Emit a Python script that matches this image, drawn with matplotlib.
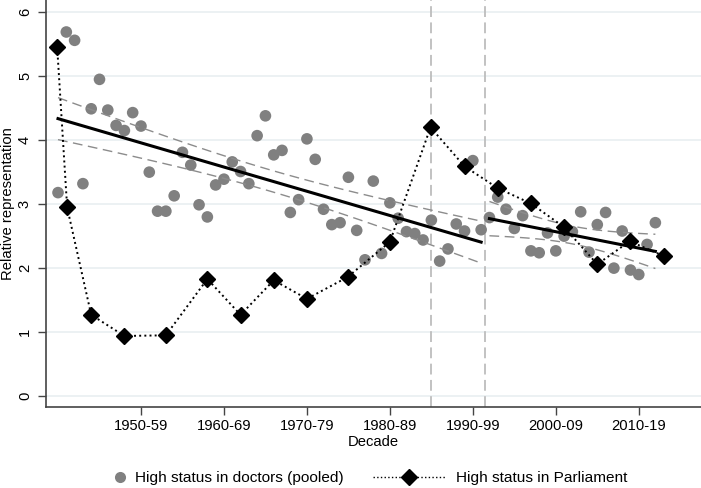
import numpy as np
import matplotlib
matplotlib.use('Agg')
import matplotlib.pyplot as plt
from matplotlib.lines import Line2D
from matplotlib.transforms import blended_transform_factory, offset_copy

plt.rcParams['font.family'] = ['Liberation Sans', 'DejaVu Sans']

# doctors, one value per year 1945-2017
doc_years = list(range(1945, 2018))
doc_values = [3.18, 5.69, 5.56, 3.32, 4.49, 4.95, 4.47, 4.23, 4.15, 4.43,
              4.22, 3.50, 2.89, 2.89, 3.13, 3.81, 3.61, 2.99, 2.80, 3.30,
              3.39, 3.66, 3.51, 3.32, 4.07, 4.38, 3.77, 3.84, 2.87, 3.07,
              4.02, 3.70, 2.92, 2.68, 2.71, 3.42, 2.59, 2.13, 3.36, 2.23,
              3.02, 2.78, 2.57, 2.54, 2.44, 2.75, 2.11, 2.30, 2.69, 2.58,
              3.68, 2.60, 2.79, 3.11, 2.92, 2.62, 2.82, 2.27, 2.24, 2.55,
              2.27, 2.50, 2.57, 2.88, 2.25, 2.68, 2.87, 2.00, 2.58, 1.97,
              1.90, 2.37, 2.71]

# parliament
parl_years = [1944.9, 1946.1, 1949.0, 1953.0, 1958.0, 1963.0, 1967.0, 1971.0,
              1975.0, 1979.9, 1985.0, 1989.9, 1994.0, 1998.0, 2002.0, 2006.0,
              2010.0, 2013.9, 2018.0]
parl_values = [5.45, 2.95, 1.27, 0.94, 0.95, 1.83, 1.27, 1.81, 1.52, 1.86,
               2.41, 4.20, 3.59, 3.25, 3.01, 2.64, 2.06, 2.42, 2.19]

# fit periods and t critical values (df = n-2)
periods = [(1945, 1996, 2.009), (1997, 2017, 2.093)]
breaks = [1990, 1996.5]

tick_pos = [1955, 1965, 1975, 1985, 1995, 2005, 2015]
tick_labels = ['1950-59', '1960-69', '1970-79', '1980-89', '1990-99', '2000-09', '2010-19']
y_ticks = [0, 1, 2, 3, 4, 5, 6]

fs = 10.6

fig = plt.figure(figsize=(7.01, 4.88), dpi=100)
ax = fig.add_axes([0.0656, 0.166, 0.9344, 0.834])

for v in y_ticks:
    ax.axhline(v, color='#e9eff1', lw=1.2, zorder=0)

ax.scatter(doc_years, doc_values, s=70, color='#808080', edgecolors='none', zorder=2)

x = np.array(doc_years, dtype=float)
y = np.array(doc_values)
for start, end, t in periods:
    m = (x >= start) & (x <= end)
    xs, ys = x[m], y[m]
    b, a = np.polyfit(xs, ys, 1)
    resid = ys - (a + b * xs)
    n = len(xs)
    s = np.sqrt(np.sum(resid ** 2) / (n - 2))
    xg = np.linspace(start, end, 100)
    se = s * np.sqrt(1 / n + (xg - xs.mean()) ** 2 / np.sum((xs - xs.mean()) ** 2))
    yg = a + b * xg
    ax.plot(xg, yg, color='black', lw=2.2, zorder=3)
    ax.plot(xg, yg + t * se, color='#8c8c8c', lw=1.0, dashes=(7, 4), zorder=3)
    ax.plot(xg, yg - t * se, color='#8c8c8c', lw=1.0, dashes=(7, 4), zorder=3)

for bx in breaks:
    ax.axvline(bx, color='#bdbdbd', lw=1.3, dashes=(6, 3), zorder=1)

ax.plot(parl_years, parl_values, color='black', ls=':', lw=1.4, marker='D',
        ms=8.5, zorder=4)

ax.set_xlim(1943.55, 2022.5)
ax.set_ylim(-0.17, 6.19)
ax.set_xticks(tick_pos)
ax.set_xticklabels(tick_labels)
ax.set_yticks(y_ticks)
ax.set_yticklabels([])
ax.tick_params(axis='both', length=6, width=1, color='#444444', labelsize=fs, pad=3)

# rotated y tick labels, Stata style
trans = offset_copy(blended_transform_factory(ax.transAxes, ax.transData),
                    fig=fig, x=-21, y=0, units='dots')
for v in y_ticks:
    ax.text(0, v, str(v), transform=trans, rotation=90, ha='center',
            va='center', fontsize=fs)

ax.set_xlabel('Decade', fontsize=fs, labelpad=1)
fig.text(8 / 701, 0.583, 'Relative representation', rotation=90, ha='center',
         va='center', fontsize=fs)

for side in ['top', 'right']:
    ax.spines[side].set_visible(False)
for side in ['left', 'bottom']:
    ax.spines[side].set_color('#444444')
    ax.spines[side].set_linewidth(1.2)

h1 = Line2D([], [], ls='none', marker='o', ms=8, color='#808080', mec='none')
h2 = Line2D([], [], color='black', ls=':', lw=1.0, marker='D', ms=8.5)
fig.legend([h1], ['High status in doctors (pooled)'], loc='center left',
           bbox_to_anchor=(0.1623, 0.0205), frameon=False, fontsize=11.1,
           handlelength=0.8, handletextpad=0.57, borderpad=0, borderaxespad=0)
fig.legend([h2], ['High status in Parliament'], loc='center left',
           bbox_to_anchor=(0.532, 0.0205), frameon=False, fontsize=11.1,
           handlelength=4.74, handletextpad=0.65, borderpad=0, borderaxespad=0)

plt.savefig('out.png', dpi=100)
